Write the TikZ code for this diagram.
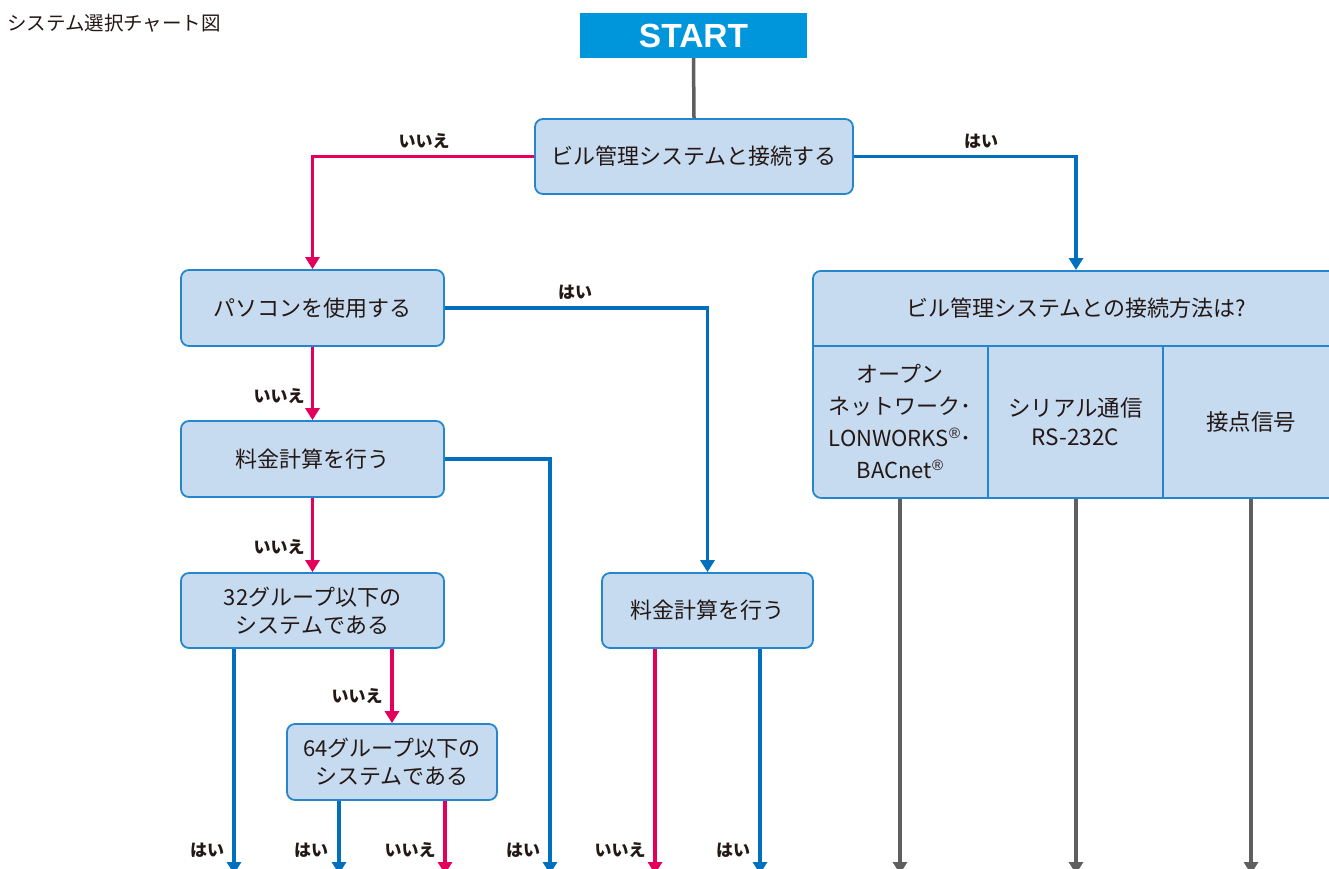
\documentclass[tikz,border=0pt]{standalone}
\usepackage{fontspec}
\setmainfont{Noto Sans CJK JP}
\newfontfamily\startfont{Liberation Sans}
\usetikzlibrary{arrows.meta}
\definecolor{boxfill}{RGB}{199,219,240}
\definecolor{boxline}{RGB}{38,134,205}
\definecolor{startblue}{RGB}{0,150,220}
\definecolor{nored}{RGB}{228,0,90}
\definecolor{yesblue}{RGB}{0,112,190}
\definecolor{linegray}{RGB}{95,95,95}
\definecolor{txt}{RGB}{35,24,21}
\newcommand{\regmark}{\raisebox{0.38em}{\startfont\fontsize{15}{15}\selectfont ®}}
\begin{document}
\begin{tikzpicture}[x=1pt,y=-1pt,
  box/.style={draw=boxline, fill=boxfill, line width=1.8pt, rounded corners=8pt, inner sep=0pt, align=center, font=\fontsize{22}{28}\selectfont, text=txt},
  plain/.style={inner sep=0pt, align=center, font=\fontsize{22}{28}\selectfont, text=txt},
  divider/.style={draw=boxline, line width=1.8pt},
  lab/.style={font=\fontsize{17}{20}\selectfont\bfseries, text=txt, inner sep=0pt},
  conn/.style={line width=3.5pt, -{Triangle[width=14pt,length=12pt]}},
  no/.style={conn, draw=nored},
  yes/.style={conn, draw=yesblue},
  gr/.style={conn, draw=linegray}]
\useasboundingbox (0,0) rectangle (1329,868);
\clip (0,0) rectangle (1329,868);

% title
\node[anchor=west, inner sep=0pt, font=\fontsize{19.5}{22}\selectfont, text=txt] (title) at (7,23) {システム選択チャート図};

% start
\node[fill=startblue, minimum width=227, minimum height=45, inner sep=0pt] (start) at (693.5,35.5)
  {\startfont\bfseries\fontsize{33.5}{33}\selectfont\color{white}START};

% question boxes
\node[box, minimum width=318, minimum height=75] (q1) at (694,156.5) {ビル管理システムと接続する};
\node[box, minimum width=263, minimum height=76] (q2) at (312.5,308) {パソコンを使用する};
\node[box, minimum width=263, minimum height=76] (q3) at (312.5,459) {料金計算を行う};
\node[box, minimum width=263, minimum height=75] (q4) at (312.5,610.5) {32グループ以下の\\システムである};
\node[box, minimum width=210, minimum height=76] (q6) at (392,762) {64グループ以下の\\システムである};
\node[box, minimum width=211, minimum height=75] (q5) at (707.5,610.5) {料金計算を行う};

% right box
\node[box, minimum width=528, minimum height=227, anchor=north west] (rb) at (812,270) {};
\draw[divider] (812,346) -- (1340,346);
\draw[divider] (988,346) -- (988,497);
\draw[divider] (1163,346) -- (1163,497);
\node[plain] (rq) at (1076,308) {ビル管理システムとの接続方法は?};
\node[plain, font=\fontsize{22}{32}\selectfont] (c1) at (900,421.5)
  {オープン\\ネットワーク･\\LONWORKS\regmark･\\BACnet\regmark};
\node[plain, font=\fontsize{22.5}{29}\selectfont] (c2) at (1075.5,421.5) {シリアル通信\\RS-232C};
\node[plain, font=\fontsize{22.5}{29}\selectfont] (c3) at (1251,421.5) {接点信号};

% free ends
\coordinate (rbin) at (1076,270);
\coordinate (e3) at (550,874);
\coordinate (e41) at (234,874);
\coordinate (e61) at (339,874);
\coordinate (e62) at (445,874);
\coordinate (e51) at (655,874);
\coordinate (e52) at (760,874);
\coordinate (g1) at (900,874);
\coordinate (g2) at (1076,874);
\coordinate (g3) at (1251,874);

% connectors
\draw[draw=linegray, line width=3.5pt] (start.south) -- (q1.north);
\draw[no] (q1.west) -| (q2.north);
\draw[yes] (q1.east) -| (rbin);
\draw[yes] (q2.east) -| (q5.north);
\draw[no] (q2.south) -- (q3.north);
\draw[yes] (q3.east) -| (e3);
\draw[no] (q3.south) -- (q4.north);
\draw[yes] (q4.south -| e41) -- (e41);
\draw[no] (q4.south -| q6.north) -- (q6.north);
\draw[yes] (q6.south -| e61) -- (e61);
\draw[no] (q6.south -| e62) -- (e62);
\draw[no] (q5.south -| e51) -- (e51);
\draw[yes] (q5.south -| e52) -- (e52);
\draw[gr] (rb.south -| g1) -- (g1);
\draw[gr] (rb.south -| g2) -- (g2);
\draw[gr] (rb.south -| g3) -- (g3);

% labels
\node[lab] (l1) at (424,141) {いいえ};
\node[lab] (l2) at (981,141) {はい};
\node[lab] (l3) at (575,292) {はい};
\node[lab] (l4) at (279,396) {いいえ};
\node[lab] (l5) at (279,547) {いいえ};
\node[lab] (l6) at (357,696) {いいえ};
\node[lab] (l7) at (207,850) {はい};
\node[lab] (l8) at (311,850) {はい};
\node[lab] (l9) at (410,850) {いいえ};
\node[lab] (l10) at (523,850) {はい};
\node[lab] (l11) at (620,850) {いいえ};
\node[lab] (l12) at (733,850) {はい};
\end{tikzpicture}
\end{document}
